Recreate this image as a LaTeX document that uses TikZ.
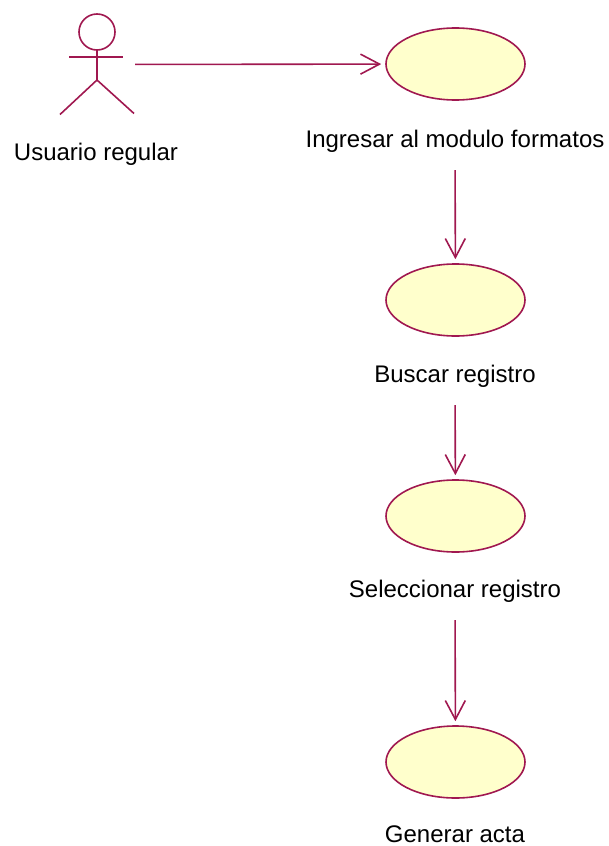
\documentclass[tikz,border=0pt]{standalone}
\usepackage{xcolor}
\usepackage{fontspec}
\setmainfont{Liberation Sans}
\usepackage{tikz}
\usetikzlibrary{calc}
\usetikzlibrary{arrows.meta}
\usetikzlibrary{shapes}
\usetikzlibrary{positioning}
\usetikzlibrary{shapes.geometric}
\definecolor{rosered}{RGB}{160,24,80}
\definecolor{rosefill}{RGB}{255,255,204}
\tikzset{>={Straight Barb[length=19pt,width=20pt]}}
\tikzstyle{uc} = [ellipse, draw=rosered, fill=rosefill, line width=1.6pt, minimum width=139pt, minimum height=72pt, inner sep=0]
\tikzstyle{lbl} = [draw=none, anchor=base, inner xsep=0, inner ysep=7pt, outer ysep=10pt, text height=18pt, text depth=6pt, font=\fontsize{24}{28}\selectfont]
\tikzstyle{assoc} = [->, draw=rosered, line width=1.6pt, shorten >=4pt]

\begin{document}
\begin{tikzpicture}[x=1pt, y=-1pt]
\useasboundingbox (0,0) rectangle (609,846);
% actor
\node [draw = none, minimum width=76pt, minimum height=101pt, inner sep=0] (user) at (97,64.5) {};
\draw [draw = rosered, line width=1.6pt] ($(user)+(0,-32.5)$) circle (18pt);
\draw [draw = rosered, line width=1.6pt] ($(user)+(-28,-7.5)$) -- ($(user)+(26,-7.5)$);
\draw [draw = rosered, line width=1.6pt] ($(user)+(0,-14.5)$) -- ($(user)+(0,15.5)$) -- ($(user)+(-37,50)$);
\draw [draw = rosered, line width=1.6pt] ($(user)+(0,15.5)$) -- ($(user)+(37,49)$);
\node [lbl] (user label) at (96,160) {Usuario regular};
% use cases
\node [uc] (U1) at (455.5,64) {};
\node [lbl] (L1) at (455,147) {Ingresar al modulo formatos};
\node [uc] (U2) at (455.5,300) {};
\node [lbl] (L2) at (455,382) {Buscar registro};
\node [uc] (U3) at (455.5,516) {};
\node [lbl] (L3) at (455,597) {Seleccionar registro};
\node [uc] (U4) at (455.5,762) {};
\node [lbl, inner ysep=0pt, outer ysep=0pt, text depth=0pt] (L4) at (455,842) {Generar acta};
\draw [assoc] (user) -- (U1);
\draw [assoc] (L1) -- (U2);
\draw [assoc] (L2) -- (U3);
\draw [assoc] (L3) -- (U4);
\end{tikzpicture}
\end{document}
